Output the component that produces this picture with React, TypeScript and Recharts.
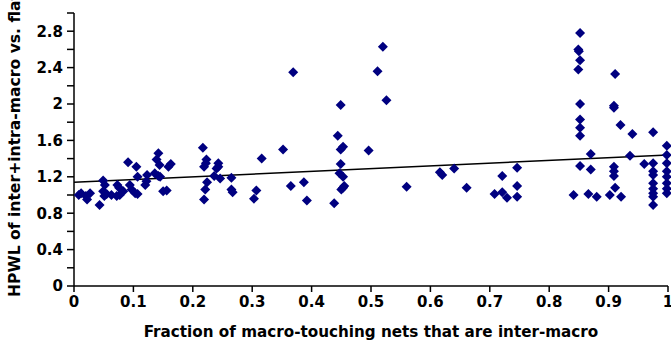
import { ScatterChart, Scatter, XAxis, YAxis, ReferenceLine } from 'recharts'

// fraction of macro-touching nets that are inter-macro
const fracInter = [
  0.008, 0.012, 0.02, 0.022, 0.027, 0.043, 0.049, 0.052, 0.049, 0.051,
  0.055, 0.063, 0.072, 0.073, 0.076, 0.077, 0.083, 0.091, 0.094, 0.097,
  0.103, 0.107, 0.105, 0.107, 0.12, 0.122, 0.123, 0.136, 0.142, 0.145,
  0.139, 0.144, 0.142, 0.15, 0.156, 0.159, 0.163, 0.217, 0.223, 0.222,
  0.219, 0.243, 0.243, 0.24, 0.236, 0.246, 0.224, 0.221, 0.219, 0.265,
  0.265, 0.267, 0.307, 0.303, 0.316, 0.352, 0.365, 0.369, 0.387, 0.392,
  0.438, 0.444, 0.449, 0.453, 0.449, 0.449, 0.447, 0.453, 0.455, 0.45,
  0.453, 0.496, 0.511, 0.52, 0.526, 0.56, 0.616, 0.62, 0.64, 0.661,
  0.708, 0.721, 0.721, 0.729, 0.746, 0.746, 0.746, 0.841, 0.852, 0.849,
  0.85, 0.852, 0.849, 0.852, 0.852, 0.852, 0.852, 0.852, 0.866, 0.87,
  0.87, 0.88, 0.902, 0.911, 0.909, 0.909, 0.92, 0.921, 0.909, 0.909,
  0.909, 0.911, 0.936, 0.94, 0.96, 0.975, 0.975, 0.975, 0.975, 0.975,
  0.975, 0.975, 0.975, 0.975, 0.998, 0.998, 0.998, 0.998, 0.998, 0.998,
  0.998, 0.998,
]

// HPWL ratio, same order as above
const hpwlRatio = [
  1.0, 1.02, 0.99, 0.95, 1.02, 0.89, 1.16, 1.11, 1.04, 0.99,
  1.01, 1.0, 0.99, 1.11, 1.08, 1.0, 1.04, 1.36, 1.11, 1.06,
  1.02, 1.01, 1.31, 1.2, 1.11, 1.15, 1.22, 1.24, 1.21, 1.2,
  1.39, 1.33, 1.46, 1.04, 1.05, 1.31, 1.34, 1.52, 1.39, 1.35,
  1.31, 1.35, 1.31, 1.29, 1.21, 1.18, 1.14, 1.06, 0.95, 1.19,
  1.06, 1.03, 1.05, 0.96, 1.4, 1.5, 1.1, 2.35, 1.14, 0.94,
  0.91, 1.65, 1.99, 1.53, 1.5, 1.34, 1.24, 1.2, 1.1, 1.06,
  1.08, 1.49, 2.36, 2.63, 2.04, 1.09, 1.25, 1.22, 1.29, 1.08,
  1.01, 1.03, 1.21, 0.97, 1.3, 1.1, 0.98, 1.0, 2.78, 2.6,
  2.58, 2.48, 2.38, 2.0, 1.83, 1.74, 1.65, 1.32, 1.01, 1.45,
  1.28, 0.98, 1.0, 2.33, 1.98, 1.96, 1.77, 0.98, 1.31, 1.26,
  1.21, 1.08, 1.43, 1.67, 1.34, 1.69, 1.35, 1.26, 1.22, 1.13,
  1.07, 1.02, 0.98, 0.89, 1.54, 1.44, 1.35, 1.26, 1.2, 1.13,
  1.07, 1.02,
]

// linear fit end points
const trendX = [0, 1]
const trendY = [1.14, 1.44]

const xTicks = [0, 0.1, 0.2, 0.3, 0.4, 0.5, 0.6, 0.7, 0.8, 0.9, 1]
const yTicks = [0, 0.2, 0.4, 0.6, 0.8, 1, 1.2, 1.4, 1.6, 1.8, 2, 2.2, 2.4, 2.6, 2.8, 3]

const points = fracInter.map((x, i) => ({ x, y: hpwlRatio[i] }))

const font = '"DejaVu Sans", sans-serif'
const tickStyle = { fontSize: 15, fontWeight: 700, fill: '#000', fontFamily: font }

const Diamond = (props: any) => {
  const { cx, cy } = props
  if (cx == null || cy == null) return null
  const r = 5
  return <polygon points={`${cx},${cy - r} ${cx + r},${cy} ${cx},${cy + r} ${cx - r},${cy}`} fill="#000080" />
}

const yLabel = () => (
  <text
    x={20}
    y={297}
    transform="rotate(-90 20 297)"
    textAnchor="start"
    style={{ fontSize: 15.6, fontWeight: 700, fontFamily: font, fill: '#000' }}
  >
    HPWL of inter+intra-macro vs. flat
  </text>
)

export default function App() {
  return (
    <div style={{ position: 'absolute', left: 0, top: 0, background: '#fff' }}>
      <ScatterChart width={671} height={341} margin={{ top: 13, right: 3, left: 0, bottom: 0 }}>
        <XAxis
          type="number"
          dataKey="x"
          domain={[0, 1]}
          ticks={xTicks}
          tick={tickStyle}
          tickFormatter={(v) => String(v)}
          tickSize={6}
          tickMargin={4}
          height={55}
          stroke="#000"
          strokeWidth={1.5}
          interval={0}
          label={{
            value: 'Fraction of macro-touching nets that are inter-macro',
            position: 'insideBottom',
            offset: 4,
            style: { fontSize: 15.2, fontWeight: 700, fontFamily: font, fill: '#000' },
          }}
        />
        <YAxis
          type="number"
          dataKey="y"
          domain={[0, 3]}
          ticks={yTicks}
          tick={tickStyle}
          tickFormatter={(v) => (Math.round(v * 10) % 4 === 0 ? String(+Number(v).toFixed(1)) : '')}
          tickSize={7}
          tickMargin={4}
          width={74}
          stroke="#000"
          strokeWidth={1.5}
          interval={0}
          label={yLabel}
        />
        <ReferenceLine
          segment={[
            { x: trendX[0], y: trendY[0] },
            { x: trendX[1], y: trendY[1] },
          ]}
          stroke="#000"
          strokeWidth={1.5}
          ifOverflow="visible"
        />
        <Scatter data={points} shape={Diamond} isAnimationActive={false} />
      </ScatterChart>
    </div>
  )
}
